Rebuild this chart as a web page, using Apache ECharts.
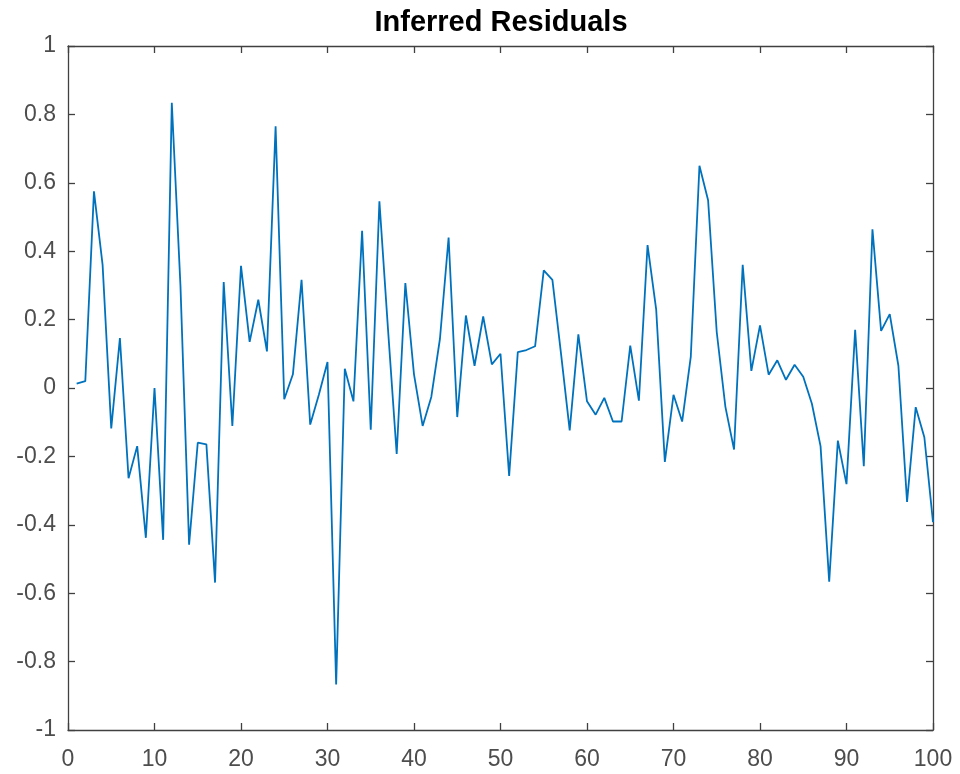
<!DOCTYPE html>
<html>
<head>
<meta charset="utf-8">
<title>Inferred Residuals</title>
<script src="https://cdn.jsdelivr.net/npm/echarts@6/dist/echarts.min.js"></script>
<style>
	html, body { margin: 0; padding: 0; background: #fff; }
	#chart { width: 960px; height: 774px; }
</style>
</head>
<body>
<div id="chart"></div>
<script>
// residual for each sample, samples run 1..100
var residuals = [
	0.013, 0.02, 0.575, 0.36, -0.118, 0.146, -0.264, -0.17, -0.438, 0.0,
	-0.444, 0.834, 0.3, -0.458, -0.16, -0.165, -0.569, 0.31, -0.111, 0.357,
	0.135, 0.258, 0.107, 0.765, -0.033, 0.04, 0.316, -0.107, -0.02, 0.076,
	-0.867, 0.056, -0.039, 0.46, -0.122, 0.546, 0.17, -0.193, 0.307, 0.04,
	-0.111, -0.026, 0.144, 0.44, -0.085, 0.212, 0.065, 0.209, 0.069, 0.1,
	-0.257, 0.105, 0.111, 0.122, 0.344, 0.316, 0.1, -0.124, 0.157, -0.039,
	-0.078, -0.029, -0.098, -0.098, 0.124, -0.037, 0.418, 0.229, -0.216, -0.02,
	-0.098, 0.092, 0.65, 0.549, 0.163, -0.055, -0.18, 0.36, 0.05, 0.183,
	0.039, 0.081, 0.024, 0.068, 0.033, -0.046, -0.17, -0.566, -0.154, -0.281,
	0.17, -0.229, 0.464, 0.167, 0.216, 0.065, -0.333, -0.056, -0.144, -0.392
];
var xTicks = [0, 10, 20, 30, 40, 50, 60, 70, 80, 90, 100];
var yTicks = [-1, -0.8, -0.6, -0.4, -0.2, 0, 0.2, 0.4, 0.6, 0.8, 1];

var axisColor = '#404040';
var labelFont = { color: '#4d4d4d', fontSize: 23, fontFamily: 'Liberation Sans, Arial, sans-serif' };

function boxAxis(pos, withLabels, range, step) {
	var isX = pos === 'bottom' || pos === 'top';
	return {
		type: 'value',
		position: pos,
		min: range[0],
		max: range[range.length - 1],
		interval: step,
		axisLine: { show: true, onZero: false, lineStyle: { color: axisColor, width: 1.3 } },
		axisTick: { show: true, inside: true, length: 7, lineStyle: { color: axisColor, width: 1.3 } },
		splitLine: { show: false },
		axisLabel: Object.assign({
			show: withLabels,
			margin: isX ? 18 : 12,
			padding: isX ? 0 : [5, 0, 0, 0]
		}, labelFont)
	};
}

var chart = echarts.init(document.getElementById('chart'), null, { renderer: 'canvas' });

chart.setOption({
	animation: false,
	backgroundColor: '#fff',
	title: {
		text: 'Inferred Residuals',
		left: 501,
		top: 8,
		padding: 0,
		textAlign: 'center',
		textStyle: { color: '#000', fontSize: 29, fontWeight: 'bold', fontFamily: 'Liberation Sans, Arial, sans-serif' }
	},
	grid: { left: 68, right: 27, top: 46, bottom: 44, containLabel: false },
	xAxis: [
		boxAxis('bottom', true, xTicks, 10),
		boxAxis('top', false, xTicks, 10)
	],
	yAxis: [
		boxAxis('left', true, yTicks, 0.2),
		boxAxis('right', false, yTicks, 0.2)
	],
	series: [{
		type: 'line',
		data: residuals.map(function (v, i) { return [i + 1, v]; }),
		showSymbol: false,
		lineStyle: { color: '#0072BD', width: 1.8 },
		itemStyle: { color: '#0072BD' }
	}]
});
</script>
</body>
</html>
